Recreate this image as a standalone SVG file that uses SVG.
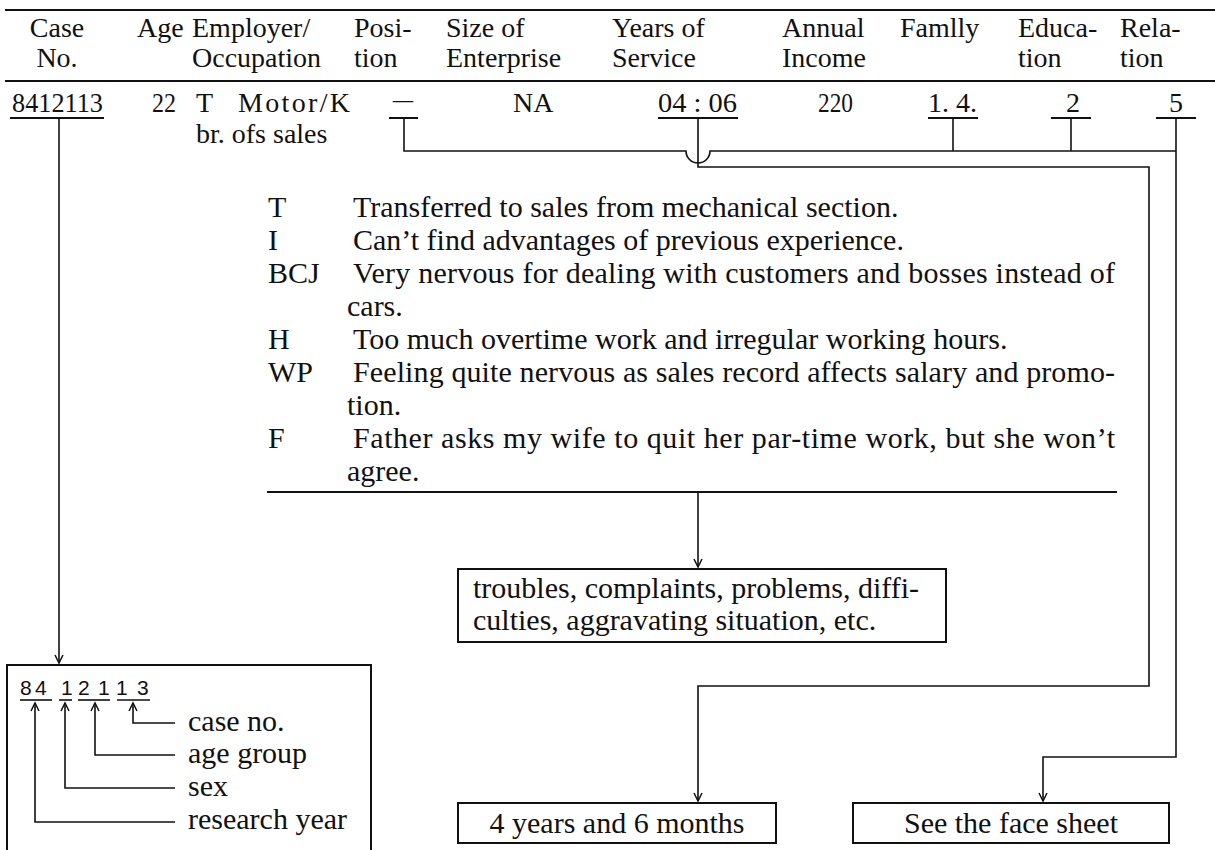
<svg xmlns="http://www.w3.org/2000/svg" width="1215" height="850" viewBox="0 0 1215 850">
<style>
.t{font-family:"Liberation Serif","Times New Roman",serif;fill:#111}
.h{font-size:28px}
.b{font-size:30px}
.s{font-family:"Liberation Sans",Arial,sans-serif;font-size:21px;fill:#111}
.m{text-anchor:middle}
.ln{stroke:#111;stroke-width:1.6;fill:none}
.rule{stroke:#111;stroke-width:2;fill:none}
.bx{fill:#fff;stroke:#111;stroke-width:2}
</style>
<defs>
<marker id="ah" viewBox="-10 -6 12 12" refX="0" refY="0" markerWidth="12" markerHeight="12" markerUnits="userSpaceOnUse" orient="auto">
<path d="M-8,-4 L0,0 L-8,4" fill="none" stroke="#111" stroke-width="1.5"/>
</marker>
</defs>
<rect width="1215" height="850" fill="#fff"/>

<g id="header">
<line class="rule" x1="5" y1="10" x2="1215" y2="10"/>
<line class="rule" x1="5" y1="81" x2="1215" y2="81"/>
<g class="t h">
<text class="m" x="57" y="37">Case</text>
<text class="m" x="57" y="67">No.</text>
<text x="137" y="37">Age</text>
<text x="192" y="37">Employer/</text>
<text x="192" y="67">Occupation</text>
<text x="354" y="37">Posi-</text>
<text x="354" y="67">tion</text>
<text x="446" y="37">Size of</text>
<text x="446" y="67">Enterprise</text>
<text x="612" y="37">Years of</text>
<text x="612" y="67">Service</text>
<text x="782" y="37">Annual</text>
<text x="782" y="67">Income</text>
<text x="900" y="37">Famlly</text>
<text x="1018" y="37">Educa-</text>
<text x="1018" y="67">tion</text>
<text x="1120" y="37">Rela-</text>
<text x="1120" y="67">tion</text>
</g>
</g>

<g id="row">
<g class="t h">
<text x="12" y="112" textLength="91" lengthAdjust="spacingAndGlyphs">8412113</text>
<text x="152" y="112" textLength="24" lengthAdjust="spacingAndGlyphs">22</text>
<text x="196" y="112">T</text>
<text x="238" y="112" textLength="112" lengthAdjust="spacing">Motor/K</text>
<text x="196" y="143">br. ofs sales</text>
<text x="393" y="108" textLength="20" lengthAdjust="spacingAndGlyphs">–</text>
<text x="513" y="112">NA</text>
<text x="658" y="112" textLength="79" lengthAdjust="spacingAndGlyphs">04 : 06</text>
<text x="818" y="112" textLength="35" lengthAdjust="spacingAndGlyphs">220</text>
<text x="928" y="112" textLength="49" lengthAdjust="spacingAndGlyphs">1. 4.</text>
<text x="1066" y="112">2</text>
<text x="1169" y="112">5</text>
</g>
<g class="rule">
<line x1="10" y1="118" x2="104" y2="118"/>
<line x1="389" y1="118" x2="418" y2="118"/>
<line x1="658" y1="118" x2="738" y2="118"/>
<line x1="928" y1="118" x2="978" y2="118"/>
<line x1="1051" y1="118" x2="1091" y2="118"/>
<line x1="1156" y1="118" x2="1196" y2="118"/>
</g>
</g>

<g id="notes" class="t b">
<text x="268" y="217">T</text>
<text x="353" y="217">Transferred to sales from mechanical section.</text>
<text x="268" y="250">I</text>
<text x="353" y="250">Can’t find advantages of previous experience.</text>
<text x="268" y="283">BCJ</text>
<text x="353" y="283" textLength="762" lengthAdjust="spacing">Very nervous for dealing with customers and bosses instead of</text>
<text x="347" y="316">cars.</text>
<text x="268" y="349">H</text>
<text x="353" y="349">Too much overtime work and irregular working hours.</text>
<text x="268" y="382">WP</text>
<text x="353" y="382" textLength="762" lengthAdjust="spacing">Feeling quite nervous as sales record affects salary and promo-</text>
<text x="347" y="415">tion.</text>
<text x="268" y="448">F</text>
<text x="353" y="448" textLength="762" lengthAdjust="spacing">Father asks my wife to quit her par-time work, but she won’t</text>
<text x="347" y="481">agree.</text>
<line class="rule" x1="267" y1="492" x2="1117" y2="492"/>
</g>

<g id="connectors" class="ln">
<path d="M59,118 V663" marker-end="url(#ah)"/>
<path d="M404,118 V151 H686 A12,12 0 0 0 710,151 H1176"/>
<path d="M953,118 V151"/>
<path d="M1071,118 V151"/>
<path d="M1176,118 V757 H1043 V801" marker-end="url(#ah)"/>
<path d="M698,118 V167 H1149 V686 H698 V801" marker-end="url(#ah)"/>
<path d="M698,492 V567" marker-end="url(#ah)"/>
</g>

<g id="troubles">
<rect class="bx" x="458" y="569" width="488" height="73"/>
<text class="t b" x="473" y="598">troubles, complaints, problems, diffi-</text>
<text class="t b" x="473" y="630">culties, aggravating situation, etc.</text>
</g>

<g id="years">
<rect class="bx" x="458" y="803" width="318" height="40"/>
<text class="t b m" x="617" y="833">4 years and 6 months</text>
</g>

<g id="facesheet">
<rect class="bx" x="853" y="803" width="316" height="40"/>
<text class="t b m" x="1011" y="833">See the face sheet</text>
</g>

<g id="codebox">
<path class="rule" d="M7,850 V665 H371 V850"/>
<text class="s" x="20" y="695">8</text>
<text class="s" x="35" y="695">4</text>
<text class="s" x="61" y="695">1</text>
<text class="s" x="78" y="695">2</text>
<text class="s" x="98" y="695">1</text>
<text class="s" x="116" y="695">1</text>
<text class="s" x="137" y="695">3</text>
<g class="rule" style="stroke-width:1.6">
<line x1="20" y1="700" x2="52" y2="700"/>
<line x1="59" y1="700" x2="72" y2="700"/>
<line x1="78" y1="700" x2="110" y2="700"/>
<line x1="117" y1="700" x2="150" y2="700"/>
</g>
<g class="ln">
<path d="M175,723 H133 V703" marker-end="url(#ah)"/>
<path d="M175,755 H95 V703" marker-end="url(#ah)"/>
<path d="M175,788 H65 V703" marker-end="url(#ah)"/>
<path d="M175,822 H35 V703" marker-end="url(#ah)"/>
</g>
<g class="t b">
<text x="188" y="731">case no.</text>
<text x="188" y="763">age group</text>
<text x="188" y="796">sex</text>
<text x="188" y="829">research year</text>
</g>
</g>
</svg>
